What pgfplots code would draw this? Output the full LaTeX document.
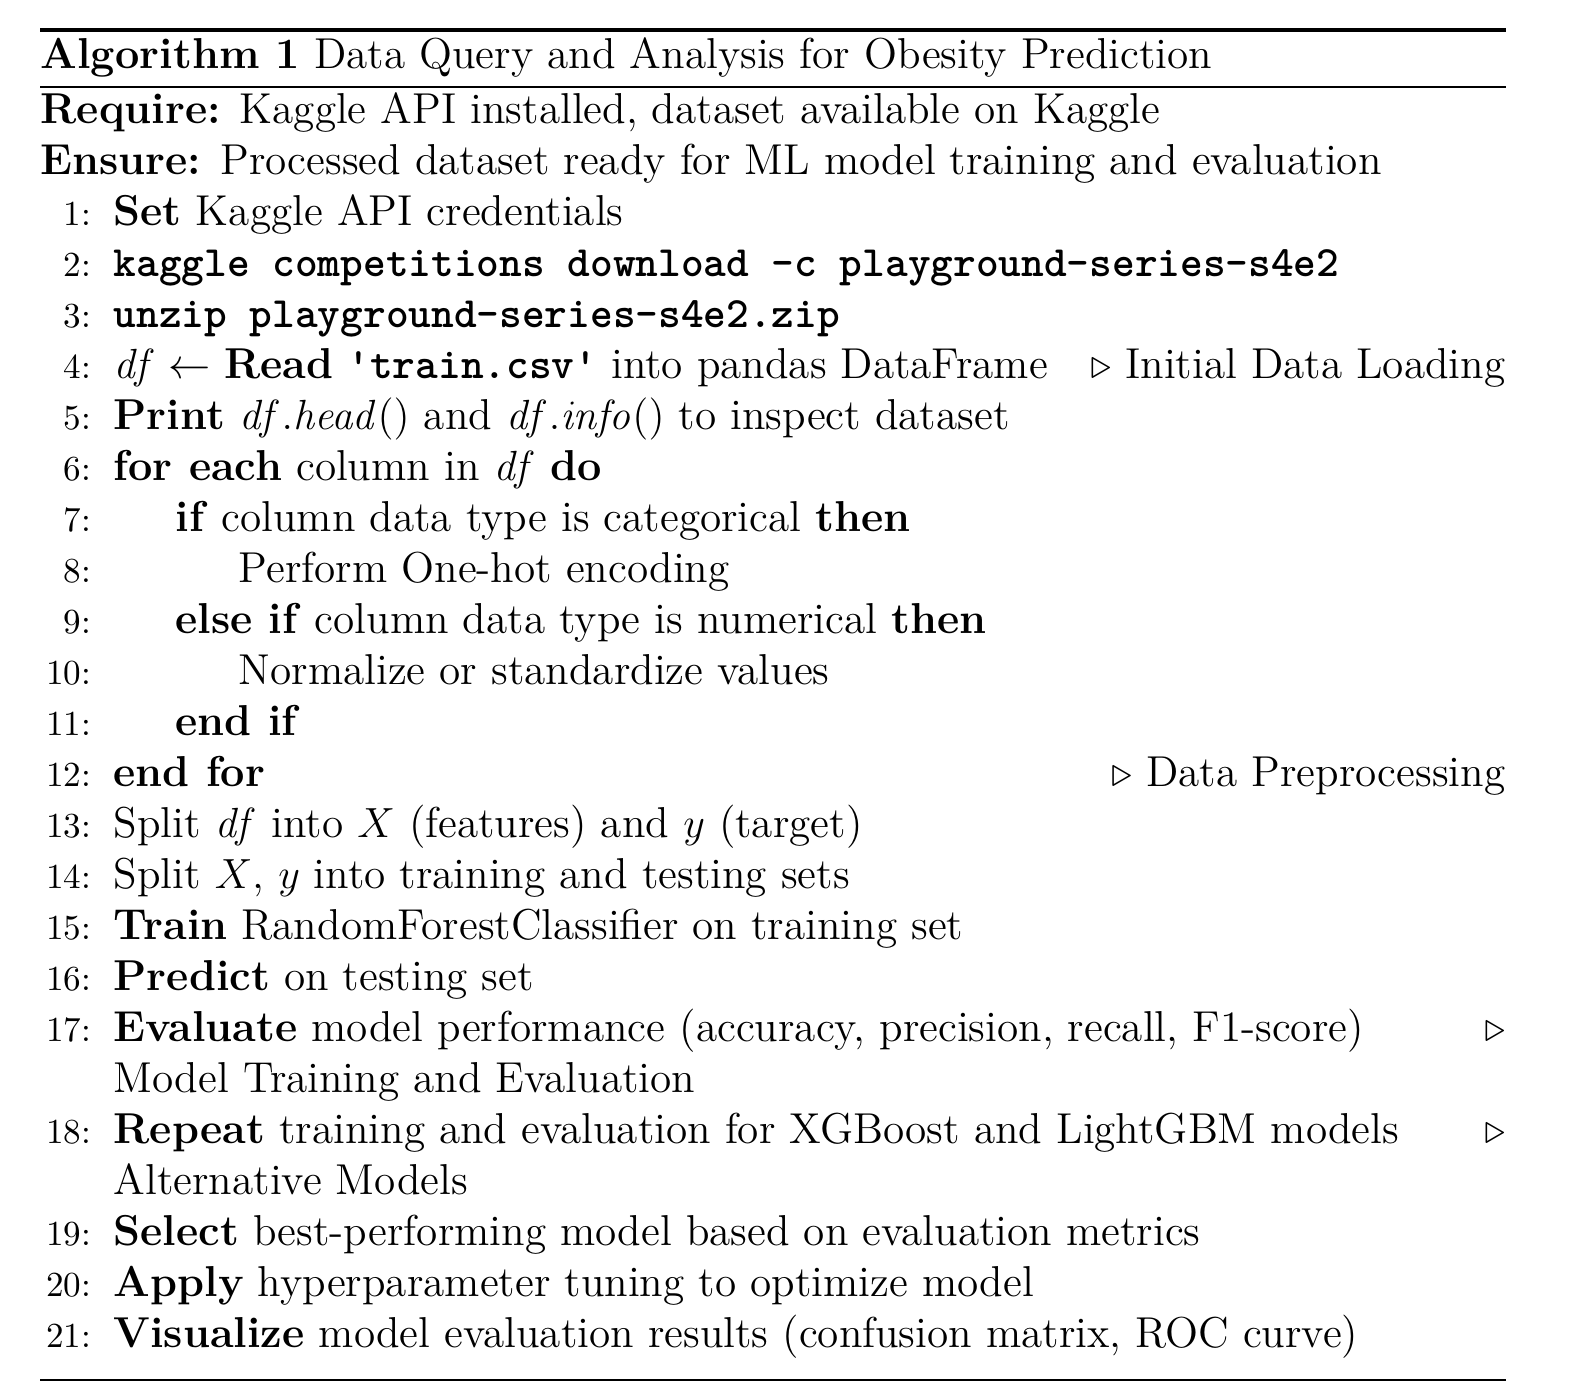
\documentclass[border=0pt]{standalone}
\usepackage{pgfplots}
\pgfplotsset{compat=1.18}
\usepackage{amsmath}
\newcommand{\F}{\fontsize{12.3}{14}\selectfont}
\newcommand{\N}[2]{\node[anchor=base east, inner sep=0] at (axis cs:92,#2) {\fontsize{10}{12}\selectfont #1:};}
\begin{document}
\begin{tikzpicture}
\begin{axis}[scale only axis, width=15.7cm, height=13.96cm, xmin=0, xmax=1570, ymin=0, ymax=1396, y dir=reverse, axis lines=none, clip=false]
\addplot[draw=none] coordinates {(0,0) (1570,1396)};
\draw[line width=1.2pt] (axis cs:40,30) -- (axis cs:1506,30);
\draw[line width=0.5pt] (axis cs:40,87) -- (axis cs:1506,87);
\draw[line width=0.5pt] (axis cs:40,1380) -- (axis cs:1506,1380);
\node[anchor=base west, inner sep=0] at (axis cs:40,68) {\F\textbf{Algorithm 1} Data Query and Analysis for Obesity Prediction};
\node[anchor=base west, inner sep=0] at (axis cs:40,123) {\F\textbf{Require:} Kaggle API installed, dataset available on Kaggle};
\node[anchor=base west, inner sep=0] at (axis cs:40,174) {\F\textbf{Ensure:} Processed dataset ready for ML model training and evaluation};
\N{1}{225}
\N{2}{276}
\N{3}{327}
\N{4}{378}
\N{5}{429}
\N{6}{480}
\N{7}{531}
\N{8}{582}
\N{9}{633}
\N{10}{684}
\N{11}{735}
\N{12}{786}
\N{13}{837}
\N{14}{888}
\N{15}{939}
\N{16}{990}
\N{17}{1041}
\N{18}{1143}
\N{19}{1245}
\N{20}{1296}
\N{21}{1347}
\node[anchor=base west, inner sep=0] at (axis cs:113,225) {\F\textbf{Set} Kaggle API credentials};
\node[anchor=base west, inner sep=0] at (axis cs:113,276) {\F\texttt{\bfseries kaggle competitions download -c playground-series-s4e2}};
\node[anchor=base west, inner sep=0] at (axis cs:113,327) {\F\texttt{\bfseries unzip playground-series-s4e2.zip}};
\node[anchor=base west, inner sep=0] at (axis cs:113,378) {\F$\mathit{df}\leftarrow$ \textbf{Read} \texttt{\bfseries 'train.csv'} into pandas DataFrame};
\node[anchor=base east, inner sep=0] at (axis cs:1506,378) {\F$\triangleright$ Initial Data Loading};
\node[anchor=base west, inner sep=0] at (axis cs:113,429) {\F\textbf{Print} $\mathit{df.head}()$ and $\mathit{df.info}()$ to inspect dataset};
\node[anchor=base west, inner sep=0] at (axis cs:113,480) {\F\textbf{for each} column in $\mathit{df}$ \textbf{do}};
\node[anchor=base west, inner sep=0] at (axis cs:175,531) {\F\textbf{if} column data type is categorical \textbf{then}};
\node[anchor=base west, inner sep=0] at (axis cs:238,582) {\F Perform One-hot encoding};
\node[anchor=base west, inner sep=0] at (axis cs:175,633) {\F\textbf{else if} column data type is numerical \textbf{then}};
\node[anchor=base west, inner sep=0] at (axis cs:238,684) {\F Normalize or standardize values};
\node[anchor=base west, inner sep=0] at (axis cs:175,735) {\F\textbf{end if}};
\node[anchor=base west, inner sep=0] at (axis cs:113,786) {\F\textbf{end for}};
\node[anchor=base east, inner sep=0] at (axis cs:1506,786) {\F$\triangleright$ Data Preprocessing};
\node[anchor=base west, inner sep=0] at (axis cs:113,837) {\F Split $\mathit{df}$ into $X$ (features) and $y$ (target)};
\node[anchor=base west, inner sep=0] at (axis cs:113,888) {\F Split $X$, $y$ into training and testing sets};
\node[anchor=base west, inner sep=0] at (axis cs:113,939) {\F\textbf{Train} RandomForestClassifier on training set};
\node[anchor=base west, inner sep=0] at (axis cs:113,990) {\F\textbf{Predict} on testing set};
\node[anchor=base west, inner sep=0] at (axis cs:113,1041) {\F\textbf{Evaluate} model performance (accuracy, precision, recall, F1-score)};
\node[anchor=base east, inner sep=0] at (axis cs:1506,1041) {\F$\triangleright$};
\node[anchor=base west, inner sep=0] at (axis cs:113,1092) {\F Model Training and Evaluation};
\node[anchor=base west, inner sep=0] at (axis cs:113,1143) {\F\textbf{Repeat} training and evaluation for XGBoost and LightGBM models};
\node[anchor=base east, inner sep=0] at (axis cs:1506,1143) {\F$\triangleright$};
\node[anchor=base west, inner sep=0] at (axis cs:113,1194) {\F Alternative Models};
\node[anchor=base west, inner sep=0] at (axis cs:113,1245) {\F\textbf{Select} best-performing model based on evaluation metrics};
\node[anchor=base west, inner sep=0] at (axis cs:113,1296) {\F\textbf{Apply} hyperparameter tuning to optimize model};
\node[anchor=base west, inner sep=0] at (axis cs:113,1347) {\F\textbf{Visualize} model evaluation results (confusion matrix, ROC curve)};
\end{axis}
\end{tikzpicture}
\end{document}
